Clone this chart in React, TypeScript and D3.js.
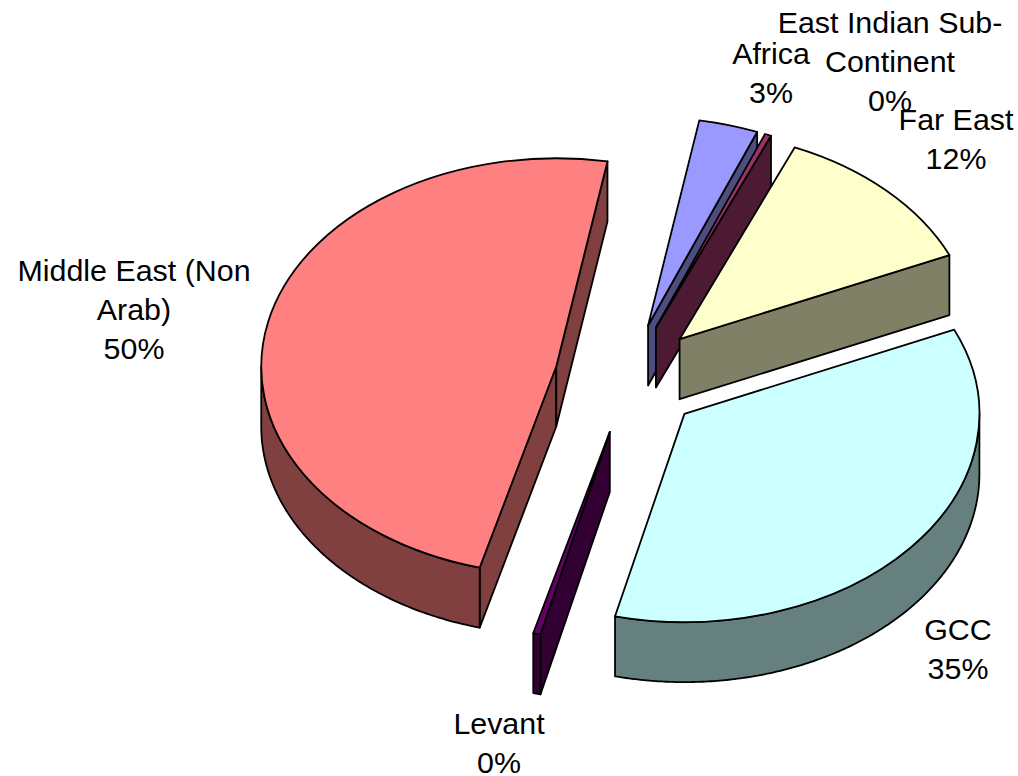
import React from 'react';
import * as d3 from 'd3';

// slices in clockwise order, starting from the pie's first angle
const categories = ['Africa', 'East Indian Sub-Continent', 'Far East', 'GCC', 'Levant', 'Middle East (Non Arab)'];
const shares = [3.25, 0.35, 12, 35.4, 0.4, 48.6];
const topColors = ['#9999FF', '#993366', '#FFFFCC', '#CCFFFF', '#660066', '#FF8080'];
const wallColors = ['#4D4D80', '#4D1A33', '#808066', '#668080', '#330033', '#804040'];

const labelLines = [
  ['Africa', '3%'],
  ['East Indian Sub-', 'Continent', '0%'],
  ['Far East', '12%'],
  ['GCC', '35%'],
  ['Levant', '0%'],
  ['Middle East (Non', 'Arab)', '50%'],
];
// centre x and first baseline y of each label
const labelAnchors = [
  [771, 64],
  [890, 33],
  [956, 130],
  [958, 640],
  [499, 734],
  [134, 281],
];

const W = 1018;
const H = 776;
const LINE_H = 39;
const cx = 628;
const cy = 378.5;
const rx = 295;
const ky = 0.706;
const explodeKy = 0.75;
const depth = 60;
const explode = 73.5;
const startAngle = (10 * Math.PI) / 180;

const pie = d3
  .pie<number>()
  .sort(null)
  .startAngle(startAngle)
  .endAngle(startAngle + 2 * Math.PI);

const arcPath = d3.arc<any>().innerRadius(0).outerRadius(rx);
const line = d3.line();

const rim = (a: number, ox: number, oy: number, dy = 0): [number, number] => [
  ox + rx * Math.sin(a),
  oy - rx * ky * Math.cos(a) + dy,
];

const order = [0, 1, 2, 4, 5, 3];

export default function App() {
  const arcs = pie(shares);

  return (
    <svg width={W} height={H} style={{ position: 'absolute', left: 0, top: 0, background: '#fff' }}>
      {order.map((i) => {
        const d = arcs[i];
        const mid = (d.startAngle + d.endAngle) / 2;
        const ox = cx + explode * Math.sin(mid);
        const oy = cy - explode * explodeKy * Math.cos(mid);
        const apex: [number, number] = [ox, oy];
        const apexLow: [number, number] = [ox, oy + depth];

        const walls: [number, number][][] = [];

        // radial wall on the leading edge shows when it faces the viewer
        if (Math.sin(d.startAngle) < 0) {
          walls.push([apex, rim(d.startAngle, ox, oy), rim(d.startAngle, ox, oy, depth), apexLow]);
        }
        if (Math.sin(d.endAngle) > 0) {
          walls.push([apex, rim(d.endAngle, ox, oy), rim(d.endAngle, ox, oy, depth), apexLow]);
        }

        // outer wall, only the part on the front half of the ellipse
        const from = Math.max(d.startAngle, Math.PI / 2);
        const to = Math.min(d.endAngle, (3 * Math.PI) / 2);
        if (to > from) {
          const steps = d3.range(from, to, 0.01).concat(to);
          walls.push([
            ...steps.map((a) => rim(a, ox, oy)),
            ...steps.slice().reverse().map((a) => rim(a, ox, oy, depth)),
          ]);
        }

        return (
          <g key={categories[i]} stroke="#000" strokeWidth={1.8} strokeLinejoin="round">
            {walls.map((w, k) => (
              <path key={k} d={line(w) + 'Z'} fill={wallColors[i]} />
            ))}
            <path
              d={arcPath(d) as string}
              transform={`translate(${ox},${oy}) scale(1,${ky})`}
              fill={topColors[i]}
              vectorEffect="non-scaling-stroke"
            />
          </g>
        );
      })}
      <g fontFamily="'Liberation Sans', Arial, sans-serif" fontSize={30.4} fill="#000" textAnchor="middle">
        {labelLines.map((lines, i) => (
          <text key={i} x={labelAnchors[i][0]} y={labelAnchors[i][1]}>
            {lines.map((t, j) => (
              <tspan key={j} x={labelAnchors[i][0]} dy={j === 0 ? 0 : LINE_H}>
                {t}
              </tspan>
            ))}
          </text>
        ))}
      </g>
    </svg>
  );
}
